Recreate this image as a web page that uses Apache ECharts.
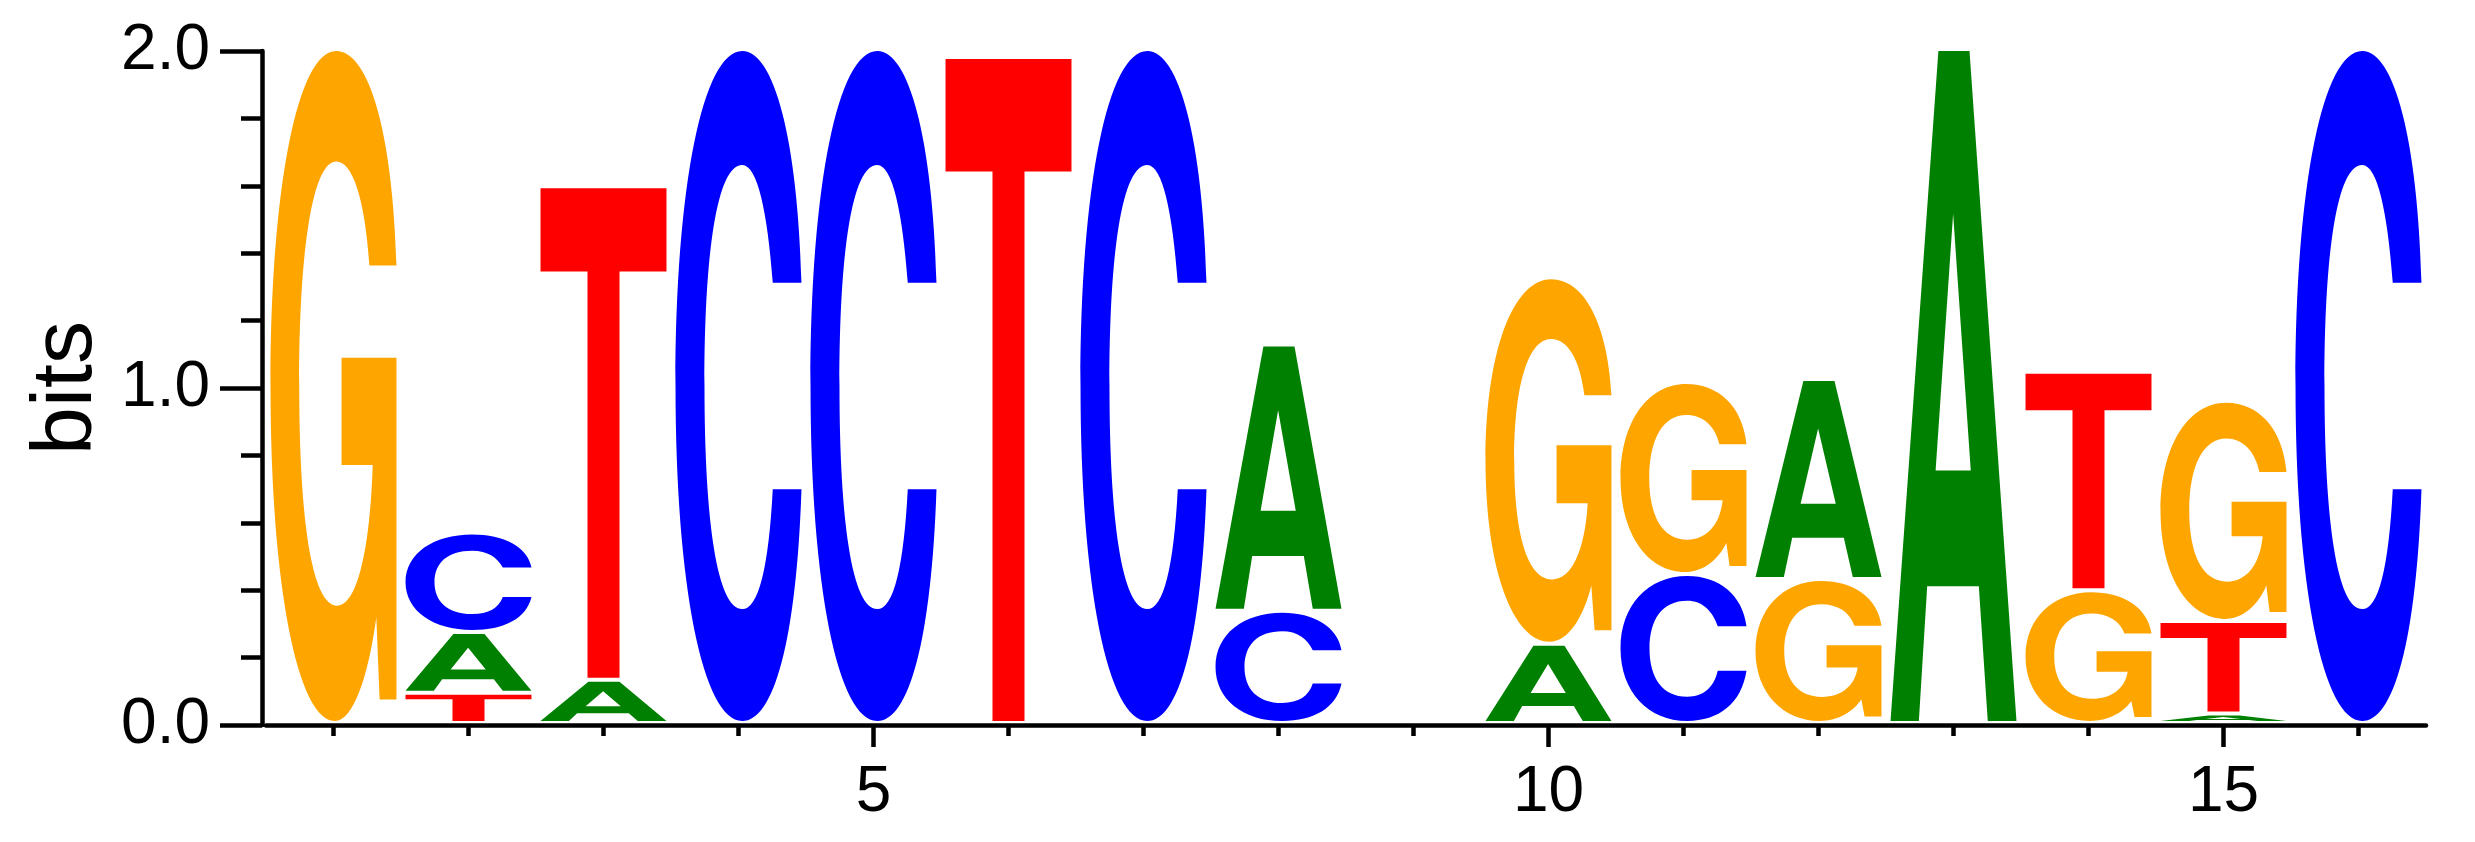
<!DOCTYPE html>
<html>
<head>
<meta charset="utf-8">
<script src="https://cdn.jsdelivr.net/npm/echarts@6/dist/echarts.min.js"></script>
<style>
html,body{margin:0;padding:0;background:#ffffff;}
#chart{width:2475px;height:842px;}
</style>
</head>
<body>
<div id="chart"></div>
<script>
// ---- data (information content in bits per letter, per position) ----
const positions = [1, 2, 3, 4, 5, 6, 7, 8, 9, 10, 11, 12, 13, 14, 15, 16];
const bitsA = [0, 0.18, 0.128, 0, 0, 0, 0, 0.79, 0, 0.235, 0, 0.594, 2.0, 0, 0.028, 0];
const bitsC = [0, 0.295, 0, 2.0, 2.0, 0, 2.0, 0.333, 0, 0, 0.442, 0, 0, 0, 0, 2.0];
const bitsG = [2.0, 0, 0, 0, 0, 0, 0, 0, 0, 1.088, 0.57, 0.427, 0, 0.394, 0.653, 0];
const bitsT = [0, 0.09, 1.465, 0, 0, 1.976, 0, 0, 0, 0, 0, 0, 0, 0.648, 0.275, 0];
const letters = ['A', 'C', 'G', 'T'];
const xTickValues = positions;
const xLabelValues = [5, 10, 15];
const yAxisName = 'bits';

// ---- styles ----
const letterColors = ['#008000', '#0000FF', '#FFA500', '#FF0000'];
const glyphs = [
  // A
  "M0,100 L38,0 L62.7,0 L100,100 L77.2,100 L70.1,79.9 L29.1,79.9 L22.5,100 Z M35.8,62.6 L63.7,62.6 L49.7,24.3 Z",
  // C
  "M100,34.6 C97,13 78,0 53,0 C22,0 0,20 0,50 C0,80 22,100 53,100 C78,100 96,88 100,65.4 L77.2,65.4 C74,77 66,83.3 53,83.3 C33,83.3 23,70 23,50 C23,30 33,17 53,17 C65,17 73,24 77.2,34.6 Z",
  // G
  "M100,32 C97,12 78,0 52,0 C22,0 0,20 0,50 C0,80 22,100 51,100 C66,100 78,93 84,84.5 L86.6,96.8 L100,96.8 L100,45.8 L56.4,45.8 L56.4,61.8 L81.1,61.8 C79,75 68,82.8 53,82.8 C33,82.8 22.8,70 22.8,50 C22.8,29 34,16.5 52.2,16.5 C65,16.5 75,22 78.5,32 Z",
  // T
  "M0,0 L100,0 L100,17 L62.7,17 L62.7,100 L37.3,100 L37.3,17 L0,17 Z"
];
const FONT = 'Liberation Sans, Arial, Helvetica, sans-serif';

// ---- build stacks (smallest at bottom) ----
const series = [bitsA, bitsC, bitsG, bitsT];
const stackData = [];
positions.forEach(function (p, i) {
  const items = [];
  series.forEach(function (arr, li) { if (arr[i] > 0) items.push([li, arr[i]]); });
  items.sort(function (a, b) { return a[1] - b[1]; });
  let base = 0;
  items.forEach(function (it) {
    stackData.push([p, base, base + it[1], it[0]]);
    base += it[1];
  });
});

function renderLetter(params, api) {
  const x = api.value(0), y0 = api.value(1), y1 = api.value(2), li = api.value(3);
  const pb = api.coord([x, y0]);
  const pt = api.coord([x, y1]);
  const w = api.size([0.933, 0])[0];
  const left = pb[0] - w / 2;
  const top = pt[1];
  const bottom = pb[1] - 4;
  const h = Math.max(bottom - top, 1);
  const d = glyphs[li].replace(/(-?\d+(?:\.\d+)?),(-?\d+(?:\.\d+)?)/g, function (m, a, b) {
    return (left + parseFloat(a) / 100 * w).toFixed(2) + ',' + (top + parseFloat(b) / 100 * h).toFixed(2);
  });
  return { type: 'path', shape: { pathData: d }, style: { fill: letterColors[li] } };
}

const chart = echarts.init(document.getElementById('chart'), null, { renderer: 'canvas' });
const lineW = 4.5;
chart.setOption({
  animation: false,
  backgroundColor: '#ffffff',
  grid: { left: 266, right: 49, top: 51, bottom: 117, containLabel: false },
  xAxis: [
    {
      type: 'value', min: 0.5, max: 16.5, position: 'bottom',
      axisLine: { show: true, lineStyle: { color: '#000', width: lineW } },
      axisTick: { show: true, customValues: xTickValues, length: 11, lineStyle: { color: '#000', width: lineW } },
      axisLabel: { show: false },
      splitLine: { show: false }
    },
    {
      type: 'value', min: 0.5, max: 16.5, position: 'bottom', gridIndex: 0,
      axisLine: { show: false },
      axisTick: { show: true, customValues: xLabelValues, length: 22, lineStyle: { color: '#000', width: lineW } },
      axisLabel: { show: true, customValues: xLabelValues, fontSize: 64, color: '#000', fontFamily: FONT, margin: 36 },
      splitLine: { show: false }
    }
  ],
  yAxis: [
    {
      type: 'value', min: 0, max: 2, interval: 0.2, offset: 4,
      axisLine: { show: true, lineStyle: { color: '#000', width: lineW } },
      axisTick: { show: true, length: 21, lineStyle: { color: '#000', width: lineW } },
      axisLabel: { show: false },
      splitLine: { show: false }
    },
    {
      type: 'value', min: 0, max: 2, interval: 1, offset: 4, position: 'left',
      axisLine: { show: false },
      axisTick: { show: true, length: 42, lineStyle: { color: '#000', width: lineW } },
      axisLabel: { show: true, fontSize: 64, color: '#000', fontFamily: FONT, margin: 52,
        formatter: function (v) { return v.toFixed(1); } },
      splitLine: { show: false },
      name: yAxisName, nameLocation: 'middle', nameRotate: 90, nameGap: 131,
      nameTextStyle: { fontSize: 86, color: '#000', fontFamily: FONT }
    }
  ],
  series: [
    {
      type: 'custom', xAxisIndex: 0, yAxisIndex: 0,
      renderItem: renderLetter,
      data: stackData,
      encode: { x: 0, y: [1, 2] },
      clip: false
    }
  ]
});
</script>
</body>
</html>
